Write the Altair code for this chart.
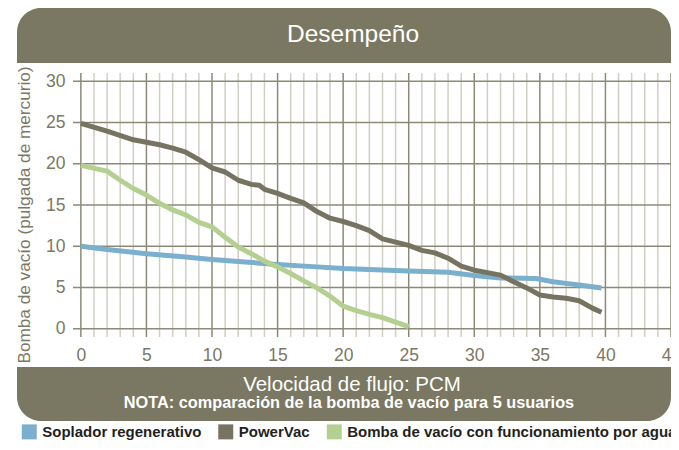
import altair as alt
import pandas as pd

FONT = "Liberation Sans"

series_names = ["Soplador regenerativo", "PowerVac", "Bomba de vacío con funcionamiento por agua"]
series_colors = ["#7aafcd", "#767460", "#b4d091"]

blue_x = [0, 2, 5, 8, 10, 12, 15, 18, 20, 25, 28, 30, 32, 34.7, 36, 37, 38, 39.7]
blue_y = [10.0, 9.6, 9.1, 8.7, 8.4, 8.15, 7.8, 7.5, 7.3, 7.0, 6.85, 6.45, 6.15, 6.1, 5.7, 5.5, 5.3, 4.95]

dark_x = [0, 2, 4, 5, 6, 7, 8, 9, 10, 11, 12, 13, 13.6, 14, 15, 16, 17, 18, 19, 20, 21, 22, 23, 24, 25,
          26, 27, 28, 29, 30, 31, 32, 33, 34, 35, 36, 37, 38, 39, 39.7]
dark_y = [24.9, 23.95, 22.9, 22.6, 22.3, 21.9, 21.4, 20.5, 19.5, 19.0, 18.0, 17.5, 17.4, 16.9, 16.4, 15.8,
          15.25, 14.2, 13.4, 13.0, 12.5, 11.9, 10.9, 10.5, 10.1, 9.5, 9.2, 8.55, 7.6, 7.1, 6.8, 6.5, 5.7,
          4.95, 4.1, 3.85, 3.7, 3.4, 2.5, 2.0]

green_x = [0, 2, 3, 4, 5, 6, 7, 8, 9, 10, 11, 12, 13, 14, 15, 16, 17, 18, 19, 20, 21, 22, 23, 24, 25]
green_y = [19.8, 19.1, 18.0, 17.0, 16.2, 15.2, 14.4, 13.8, 12.9, 12.35, 11.1, 9.9, 9.1, 8.2, 7.5, 6.7,
           5.8, 4.95, 3.95, 2.75, 2.2, 1.75, 1.35, 0.8, 0.25]

x_major = [0, 5, 10, 15, 20, 25, 30, 35, 40, 45]
x_minor = [v for v in range(0, 45) if v % 5 != 0]
y_major = [0, 5, 10, 15, 20, 25, 30]

title_text = "Desempeño"
x_title = "Velocidad de flujo: PCM"
note_text = "NOTA: comparación de la bomba de vacío para 5 usuarios"
y_title = "Bomba de vacío (pulgada de mercurio)"

rows = []
for name, xs, ys in zip(series_names, [blue_x, dark_x, green_x], [blue_y, dark_y, green_y]):
    for xv, yv in zip(xs, ys):
        rows.append({"serie": name, "pcm": xv, "hg": yv})
df = pd.DataFrame(rows)

W, H = 598, 264
LABEL_COLOR = "#7b7864"
BOX_COLOR = "#7a7862"
MAJOR = "#8c8a76"
MINOR = "#d0cfc4"

xscale = alt.Scale(domain=[-0.6, 45], nice=False, zero=False)
yscale = alt.Scale(domain=[-1, 31], nice=False, zero=False)
xaxis = alt.Axis(values=x_major, grid=False, domain=False, ticks=False, title=None,
                 labelPadding=9, labelFontSize=17.5, labelColor=LABEL_COLOR, labelFont=FONT,
                 labelOverlap=False, labelFlush=False)
yaxis = alt.Axis(values=y_major, grid=False, domain=False, ticks=False, title=None,
                 labelPadding=8, labelFontSize=17.5, labelColor=LABEL_COLOR, labelFont=FONT,
                 labelOverlap=False, labelFlush=False)

def X(field):
    return alt.X(field, type="quantitative", scale=xscale, axis=xaxis)

def Y(field):
    return alt.Y(field, type="quantitative", scale=yscale, axis=yaxis)

one = pd.DataFrame({"k": [0]})

minor_v = alt.Chart(pd.DataFrame({"v": x_minor})).mark_rule(color=MINOR, strokeWidth=1.5).encode(x=X("v"))
major_v = alt.Chart(pd.DataFrame({"v": x_major})).mark_rule(color=MAJOR, strokeWidth=1.5).encode(x=X("v"))
major_h = alt.Chart(pd.DataFrame({"h": y_major})).mark_rule(color=MAJOR, strokeWidth=1.5).encode(y=Y("h"))

# square legend swatches: a small square with a thick stroke reads as a solid 15px swatch
lines = alt.Chart(df).mark_line(strokeWidth=5, strokeCap="butt", strokeJoin="round").encode(
    x=X("pcm"),
    y=Y("hg"),
    color=alt.Color("serie:N", scale=alt.Scale(domain=series_names, range=series_colors),
                    legend=alt.Legend(orient="none", legendX=-51.25, legendY=351, direction="horizontal",
                                      title=None, symbolType="square", symbolSize=56.25,
                                      symbolStrokeWidth=7.5,
                                      labelFontSize=15, labelFontWeight="bold", labelFont=FONT,
                                      labelColor="#231f20", labelOffset=5.5, columnPadding=4.5,
                                      padding=0, labelLimit=400)),
    order=alt.Order("pcm:Q"),
)

header_box = alt.Chart(one).mark_rect(color=BOX_COLOR, cornerRadiusTopLeft=24, cornerRadiusTopRight=24).encode(
    x=alt.value(-56), x2=alt.value(598), y=alt.value(-65), y2=alt.value(-10))
header_txt = alt.Chart(one).mark_text(text=title_text, font=FONT, fontSize=24.5, color="white",
                                      align="center", baseline="alphabetic").encode(
    x=alt.value(280), y=alt.value(-31))

bottom_box = alt.Chart(one).mark_rect(color=BOX_COLOR, cornerRadiusBottomLeft=24, cornerRadiusBottomRight=24).encode(
    x=alt.value(-56), x2=alt.value(598), y=alt.value(294), y2=alt.value(348))
xtitle_txt = alt.Chart(one).mark_text(text=x_title, font=FONT, fontSize=20.5, color="white",
                                      align="center", baseline="alphabetic").encode(
    x=alt.value(279), y=alt.value(318))
note_txt = alt.Chart(one).mark_text(text=note_text, font=FONT, fontSize=16.3, fontWeight="bold", color="white",
                                    align="center", baseline="alphabetic").encode(
    x=alt.value(276), y=alt.value(335))

ytitle_txt = alt.Chart(one).mark_text(text=y_title, font=FONT, fontSize=17.2, color=LABEL_COLOR,
                                      align="center", baseline="middle", angle=270).encode(
    x=alt.value(-48), y=alt.value(142))

chart = alt.layer(
    minor_v, major_v, major_h, lines,
    header_box, header_txt, bottom_box, xtitle_txt, note_txt, ytitle_txt
).resolve_scale(x="shared", y="shared").properties(
    width=W, height=H,
    autosize=alt.AutoSizeParams(type="none"),
    padding={"left": 65, "top": 65, "right": 0, "bottom": 105},
).configure_view(stroke=None)

chart.save("out.html", embed_options={"renderer": "svg", "actions": False})
